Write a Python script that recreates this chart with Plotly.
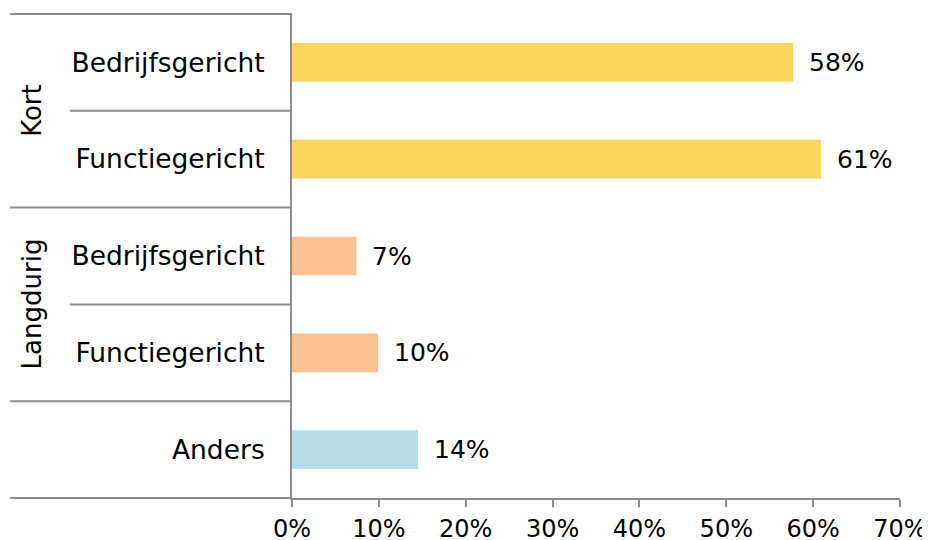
import plotly.graph_objects as go

groups = ["Kort", "Kort", "Langdurig", "Langdurig", ""]
categories = ["Bedrijfsgericht", "Functiegericht", "Bedrijfsgericht", "Functiegericht", "Anders"]
values = [57.7, 60.9, 7.4, 9.9, 14.5]
labels = ["58%", "61%", "7%", "10%", "14%"]
colors = ["#FAD75C", "#FAD75C", "#F8C291", "#F8C291", "#B7DDE8"]
x_ticks = [0, 10, 20, 30, 40, 50, 60, 70]
x_ticktext = ["0%", "10%", "20%", "30%", "40%", "50%", "60%", "70%"]

ids = [f"{g}|{c}|{i}" for i, (g, c) in enumerate(zip(groups, categories))]
FONT = "DejaVu Sans, Verdana, sans-serif"
GRID = "#8C8C8C"
PW = 608.0

fig = go.Figure()
fig.add_trace(go.Bar(
    x=values, y=ids, orientation="h",
    marker=dict(color=colors, line=dict(width=0)),
    width=0.4, hoverinfo="skip",
))

for v, yid, lab in zip(values, ids, labels):
    fig.add_annotation(x=v, y=yid, text=lab, showarrow=False, xanchor="left",
                       xshift=14, font=dict(size=25, color="black", family=FONT))

n = len(categories)
for k in range(n + 1):
    y = 1 - k / n
    full = k in (0, 2, 4, 5)
    x0 = -282 / PW if full else -222 / PW
    fig.add_shape(type="line", xref="paper", yref="paper", x0=x0, x1=0, y0=y, y1=y,
                  line=dict(color=GRID, width=2))

seen = {}
for i, g in enumerate(groups):
    if g:
        seen.setdefault(g, []).append(i)
for g, idx in seen.items():
    yc = 1 - (min(idx) + max(idx) + 1) / 2 / n
    fig.add_annotation(x=-260 / PW, y=yc, xref="paper", yref="paper", text=g,
                       textangle=-90, showarrow=False, xanchor="center", yanchor="middle",
                       font=dict(size=26, color="black", family=FONT))

# the page body adds an 8px margin, so the figure is sized/offset to compensate
fig.update_layout(
    width=922, height=532,
    margin=dict(l=284, r=30, t=6, b=42, autoexpand=False),
    paper_bgcolor="white", plot_bgcolor="white",
    showlegend=False,
    font=dict(family=FONT, size=19, color="black"),
    xaxis=dict(range=[0, 70], tickvals=x_ticks, ticktext=x_ticktext, automargin=False,
               showgrid=False, zeroline=False, showline=True, linecolor=GRID, linewidth=2,
               ticks="outside", ticklen=7, tickcolor=GRID, tickwidth=2,
               ticklabelstandoff=1,
               tickfont=dict(size=24, color="black", family=FONT)),
    yaxis=dict(autorange="reversed", tickvals=ids, ticktext=categories, automargin=False,
               showgrid=False, zeroline=False, showline=True, linecolor=GRID, linewidth=2,
               ticks="", ticklabelstandoff=20,
               tickfont=dict(size=26.5, color="black", family=FONT)),
)

fig.write_html("out.html")
